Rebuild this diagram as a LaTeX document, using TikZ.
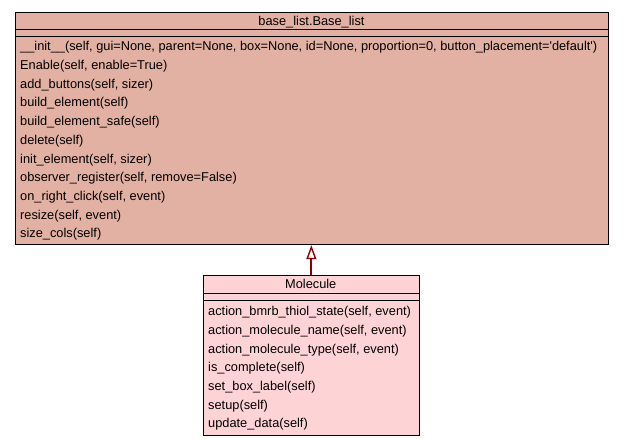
\documentclass[tikz,border=0pt]{standalone}
\usepackage{fontspec}
\setmainfont{Liberation Sans}[Ligatures=TeXOff]
\usetikzlibrary{arrows.meta}
\definecolor{basefill}{RGB}{227,177,163}
\definecolor{molfill}{RGB}{254,211,214}
\definecolor{arrowred}{RGB}{140,0,0}
\begin{document}
\begin{tikzpicture}[x=1pt,y=-1pt,
  classbox/.style={draw=black, line width=1.2pt, inner sep=0pt, anchor=north west},
  rowtext/.style={anchor=west, inner sep=0pt, font=\fontsize{12.8}{14}\selectfont, text height=9pt, text depth=3pt},
  headtext/.style={anchor=center, inner sep=0pt, font=\fontsize{12.8}{14}\selectfont, text height=9pt, text depth=3pt},
  sepline/.style={draw=black, line width=1.2pt},
  inherit/.style={draw=arrowred, line width=2pt, -{Triangle[open, width=10pt, length=14pt, line width=1.4pt]}}
]
\useasboundingbox (0,0) rectangle (624,445);
% base class box
\node[classbox, fill=basefill, minimum width=593pt, minimum height=232pt] (base) at (15,12) {};
\draw[sepline] (15,29.5) -- (608,29.5);
\draw[sepline] (15,36.5) -- (608,36.5);
\node[headtext] (basename) at (311.5,22) {base\_list.Base\_list};
\foreach \i/\t in {0/{\_\_init\_\_(self, gui=None, parent=None, box=None, id=None, proportion=0, button\_placement='default')},
  1/{Enable(self, enable=True)},
  2/{add\_buttons(self, sizer)},
  3/{build\_element(self)},
  4/{build\_element\_safe(self)},
  5/{delete(self)},
  6/{init\_element(self, sizer)},
  7/{observer\_register(self, remove=False)},
  8/{on\_right\_click(self, event)},
  9/{resize(self, event)},
  10/{size\_cols(self)}}{
  \node[rowtext] (bm\i) at (20,{47.8+18.7*\i}) {\t};
}
% derived class box
\node[classbox, fill=molfill, minimum width=215.5pt, minimum height=160pt] (mol) at (203,275) {};
\draw[sepline] (203,293.2) -- (418.5,293.2);
\draw[sepline] (203,300.5) -- (418.5,300.5);
\node[headtext] (molname) at (310.75,285.5) {Molecule};
\foreach \i/\t in {0/{action\_bmrb\_thiol\_state(self, event)},
  1/{action\_molecule\_name(self, event)},
  2/{action\_molecule\_type(self, event)},
  3/{is\_complete(self)},
  4/{set\_box\_label(self)},
  5/{setup(self)},
  6/{update\_data(self)}}{
  \node[rowtext] (mm\i) at (208,{312.8+18.67*\i}) {\t};
}
% inheritance
\coordinate (tip) at (mol.north |- base.south);
\draw[inherit] (mol.north) -- (tip);
\end{tikzpicture}
\end{document}
